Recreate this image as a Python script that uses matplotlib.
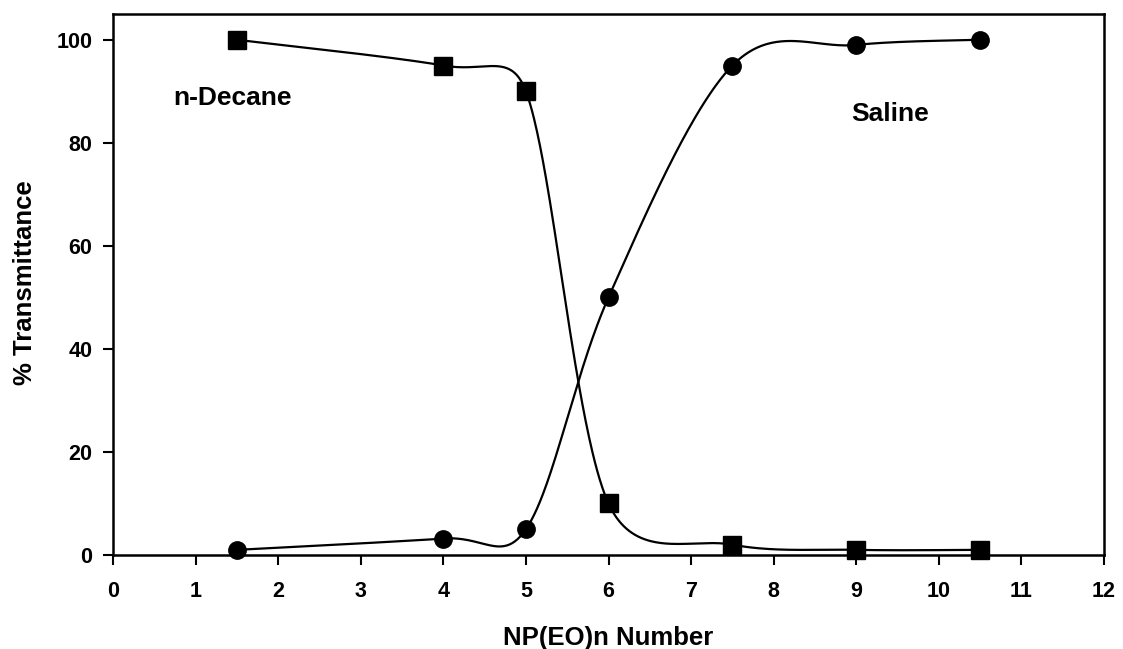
import numpy as np
import matplotlib
matplotlib.use("Agg")
import matplotlib.pyplot as plt

plt.rcParams['font.family'] = ['Liberation Sans', 'DejaVu Sans']
plt.rcParams['font.weight'] = 'bold'

eo_number = [1.5, 4, 5, 6, 7.5, 9, 10.5]
decane = [100, 95, 90, 10, 2, 1, 1]
saline = [1, 3.2, 5, 50, 95, 99, 100]


def smooth(ax, xs, ys, n=80):
    """Bezier smoothing through the points, computed in display space,
    with each control arm limited to half of its segment's length."""
    pts = ax.transData.transform(np.column_stack([xs, ys]).astype(float))
    out = []
    for i in range(len(pts) - 1):
        p1, p2 = pts[i], pts[i + 1]
        p0 = pts[i - 1] if i > 0 else p1
        p3 = pts[i + 2] if i + 2 < len(pts) else p2
        d12 = np.hypot(*(p2 - p1))
        a1 = (p2 - p0) / 6.0
        a2 = (p3 - p1) / 6.0
        for a in (a1, a2):
            la = np.hypot(*a)
            if la > d12 / 2 and la > 0:
                a *= (d12 / 2) / la
        c1 = p1 + a1
        c2 = p2 - a2
        t = np.linspace(0, 1, n)[:, None]
        seg = ((1 - t) ** 3) * p1 + 3 * ((1 - t) ** 2) * t * c1 \
            + 3 * (1 - t) * t ** 2 * c2 + t ** 3 * p2
        out.append(seg if i == 0 else seg[1:])
    out = ax.transData.inverted().transform(np.vstack(out))
    return out[:, 0], out[:, 1]


fig = plt.figure(figsize=(11.23, 6.49), dpi=100)
ax = fig.add_axes([113 / 1123, 1 - 555 / 649, (1104 - 113) / 1123, (555 - 14) / 649])
ax.set_xlim(0, 12)
ax.set_ylim(0, 105)

for ys, mk, ms in [(decane, 's', 13), (saline, 'o', 12.5)]:
    sx, sy = smooth(ax, eo_number, ys)
    ax.plot(sx, sy, color='black', lw=1.6, zorder=2, clip_on=False)
    ax.plot(eo_number, ys, linestyle='none', marker=mk, ms=ms,
            color='black', zorder=3, clip_on=False)

ax.set_xticks(range(0, 13))
ax.set_yticks(range(0, 101, 20))
for s in ax.spines.values():
    s.set_linewidth(1.8)
ax.tick_params(direction='out', length=7, width=1.5, labelsize=15.5)
ax.tick_params(axis='x', pad=12)
ax.tick_params(axis='y', pad=8)
for lab in ax.get_xticklabels() + ax.get_yticklabels():
    lab.set_fontweight('bold')

ax.set_xlabel('NP(EO)n Number', fontsize=18.5, fontweight='bold', labelpad=17)
fig.text(25 / 1123, 1 - 283 / 649, '% Transmittance', fontsize=18.5, fontweight='bold',
         rotation=90, ha='center', va='center')

ax.text(1.45, 88.7, 'n-Decane', fontsize=19, fontweight='bold', ha='center', va='center')
ax.text(9.41, 85.6, 'Saline', fontsize=19, fontweight='bold', ha='center', va='center')

fig.savefig('out.png', dpi=100)
